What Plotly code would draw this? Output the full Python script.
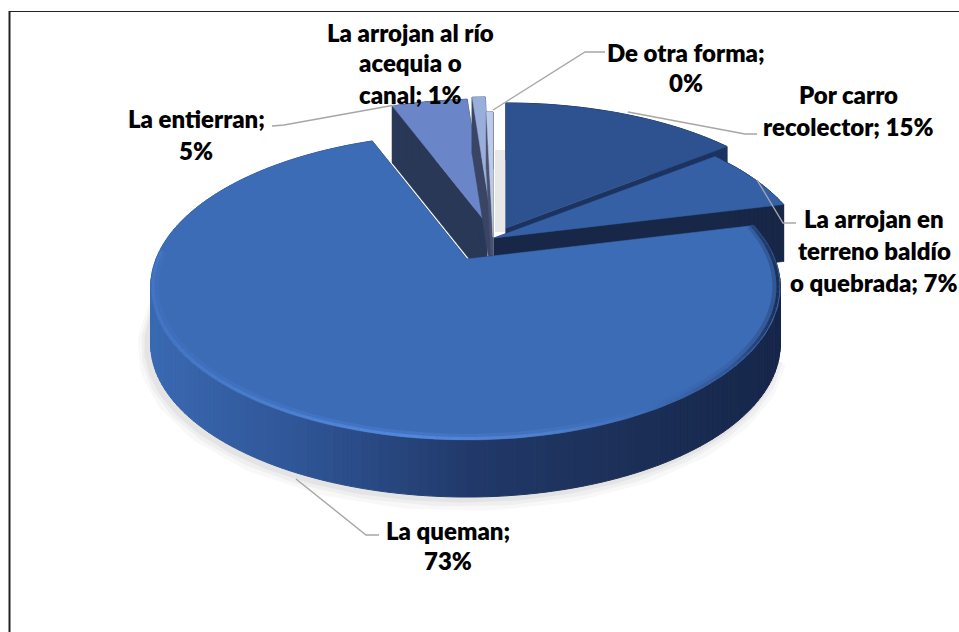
import math
import plotly.graph_objects as go

# ---- data ----
categories = ["Por carro recolector", "La arrojan en terreno baldío o quebrada", "La queman",
              "La entierran", "La arrojan al río acequia o canal", "De otra forma"]
values = [14.5, 6.7, 73.0, 4.6, 0.8, 0.4]
percent_labels = ["15%", "7%", "73%", "5%", "1%", "0%"]

# ---- appearance ----
FONT = "Lato"
FONT_SIZE = 24
FONT_WEIGHT = 800
TEXT = "#000000"
LEADER = "#A6A6A6"
R, RY, K, DEPTH = 311, 147.9, 0.183, 57
R_RIGHT = [311, 311, 308, 311, 311, 311]
apex = [(506, 228), (494, 238), (467, 259), (487, 224), (492, 222), (493, 237)]
top_col = ["#2E5290", "#3560A5", "#3D6CB7", "#6A86C8", "#9AAEDC", "#BCC9E8"]
wall_col = ["#1C3360", "#182747", "#1B2D51", "#2A3857", "#3A4566", "#4A5270"]
side_stops = [(150, "#3A69B2"), (300, "#2F5596"), (470, "#21396A"), (620, "#1C3058"), (780, "#16264A")]
rim_stops = [(150, "#4375C4"), (400, "#5288DC"), (550, "#4E7FCB"), (650, "#3D6CB7"), (735, "#2F5596"), (780, "#1B2D51")]


def hex2rgb(h):
    return tuple(int(h[i:i + 2], 16) for i in (1, 3, 5))


def ramp(stops, x):
    if x <= stops[0][0]:
        return stops[0][1]
    for (x0, c0), (x1, c1) in zip(stops, stops[1:]):
        if x <= x1:
            t = (x - x0) / (x1 - x0)
            a, b = hex2rgb(c0), hex2rgb(c1)
            return "rgb(%d,%d,%d)" % tuple(round(a[i] + (b[i] - a[i]) * t) for i in range(3))
    return stops[-1][1]


def project(i, deg, r=1.0):
    ap = apex[i]
    th = math.radians(deg)
    X, Y = r * math.sin(th), r * math.cos(th)
    s = 1 / (1 + K * Y)
    rx = R_RIGHT[i] if X > 0 else R
    return ap[0] + rx * X * s, ap[1] - RY * Y * s


fig = go.Figure()


def poly(xs, ys, color, edge=1.0):
    fig.add_trace(go.Scatter(x=xs, y=ys, mode="lines", fill="toself", fillcolor=color,
                             line=dict(width=edge, color=color), hoverinfo="skip", showlegend=False))


def line(xs, ys, color, width, opacity=1.0):
    fig.add_trace(go.Scatter(x=xs, y=ys, mode="lines", line=dict(color=color, width=width),
                             opacity=opacity, hoverinfo="skip", showlegend=False))


# slice angles from the values
total = sum(values)
edges = [0.0]
for v in values:
    edges.append(edges[-1] + v / total * 360)


def arc(i, step=1.0):
    a, b = edges[i], edges[i + 1]
    n = max(2, int((b - a) / step))
    return [a + (b - a) * j / n for j in range(n + 1)]


# soft shadow under the big slice
q = [project(2, d) for d in arc(2) if 105 < d < 335]
for w, op, dy in [(20, 0.05, 4), (13, 0.07, 3), (7, 0.09, 2)]:
    line([p[0] - 3 for p in q], [p[1] + DEPTH + dy for p in q], "#808080", w, op)


def draw_slice(i):
    ap = apex[i]
    angles = arc(i, 1.5)
    for d in (edges[i], edges[i + 1]):
        x, y = project(i, d)
        poly([ap[0], x, x, ap[0], ap[0]], [ap[1], y, y + DEPTH, ap[1] + DEPTH, ap[1]], wall_col[i], 0.6)
    for d0, d1 in zip(angles, angles[1:]):
        x0, y0 = project(i, d0)
        x1, y1 = project(i, d1)
        col = ramp(side_stops, (x0 + x1) / 2) if i == 2 else wall_col[i]
        poly([x0, x1, x1, x0, x0], [y0, y1, y1 + DEPTH, y0 + DEPTH, y0], col)
    pts = [project(i, d) for d in arc(i, 1.0)]
    poly([ap[0]] + [p[0] for p in pts] + [ap[0]], [ap[1]] + [p[1] for p in pts] + [ap[1]], top_col[i], 0.5)


for i in [0, 1, 3, 4, 5, 2]:
    draw_slice(i)

# lit rim of the big slice
rim = arc(2, 2.0)
for width, opacity, r in [(6, 0.35, 0.985), (3, 1.0, 0.993)]:
    for d0, d1 in zip(rim, rim[1:]):
        if d0 > 272:
            continue
        x0, y0 = project(2, d0, r)
        x1, y1 = project(2, d1, r)
        line([x0, x1], [y0, y1], ramp(rim_stops, (x0 + x1) / 2), width, opacity)

# leader lines
leaders = [
    ([272, 284, 395], [126, 125, 105]),
    ([605, 585, 493], [52, 52, 110]),
    ([757, 745, 628], [134, 134, 112]),
    ([796, 783, 757], [223, 223, 180]),
    ([379, 366, 296], [535, 535, 479]),
]
for xs, ys in leaders:
    line(xs, ys, LEADER, 1.4)

# text lines: each label is category; percent, wrapped as in the picture
wraps = [
    (["Por carro", "recolector; " + percent_labels[0]], 848, [94, 126]),
    (["La arrojan en", "terreno baldío", "o quebrada; " + percent_labels[1]], 874, [218, 250, 282]),
    (["La queman;", percent_labels[2]], 448, [530, 560]),
    (["La entierran;", percent_labels[3]], 196, [118, 150]),
    (["La arrojan al río", "acequia o", "canal; " + percent_labels[4]], 410, [32, 62, 94]),
    (["De otra forma;", percent_labels[5]], 686, [52, 82]),
]
annotations = []
for lines, cx, ys in wraps:
    for txt, yy in zip(lines, ys):
        annotations.append(dict(x=cx, y=yy, text=txt, showarrow=False, xref="x", yref="y",
                                xanchor="center", yanchor="middle",
                                font=dict(family=FONT, size=FONT_SIZE, color=TEXT, weight=FONT_WEIGHT)))

fig.update_layout(
    width=959, height=632, margin=dict(l=0, r=0, t=0, b=0), autosize=False,
    paper_bgcolor="#FFFFFF", plot_bgcolor="#FFFFFF", showlegend=False,
    xaxis=dict(range=[0, 959], visible=False, fixedrange=True),
    yaxis=dict(range=[632, 0], visible=False, fixedrange=True),
    annotations=annotations,
    shapes=[
        dict(type="rect", xref="x", yref="y", x0=495, x1=505, y0=150, y1=232,
             fillcolor="#E8E8E8", line_width=0, layer="below"),
        dict(type="line", xref="x", yref="y", x0=9, x1=959, y0=11.5, y1=11.5, line=dict(color="#222222", width=1)),
        dict(type="line", xref="x", yref="y", x0=9.5, x1=9.5, y0=11, y1=632, line=dict(color="#222222", width=2)),
    ],
)
fig.write_html("out.html", config={"displayModeBar": False},
               post_script="document.body.style.margin='0';document.body.style.overflow='hidden';")
